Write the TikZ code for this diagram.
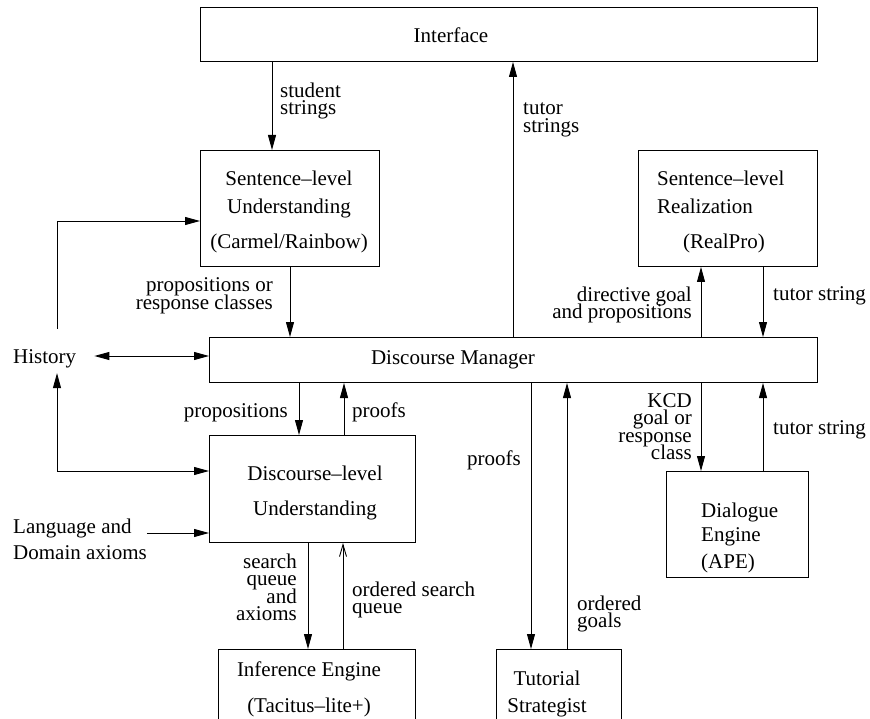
\documentclass[tikz,border=0pt]{standalone}
\usepackage{fontspec}
\setmainfont{Liberation Serif}
\usetikzlibrary{arrows.meta}
\tikzset{every node/.style={inner sep=0pt, font={\fontsize{21}{17.5}\selectfont\lineskiplimit=-30pt}}}
\tikzset{blk/.style={draw, line width=1pt, anchor=north west}}
\tikzset{arr/.style={-{Triangle[length=15pt,width=8pt]}, line width=0.9pt}}
\tikzset{arrs/.style={{Triangle[length=15pt,width=8pt]}-{Triangle[length=15pt,width=8pt]}, line width=0.9pt}}
\tikzset{oarr/.style={-{Straight Barb[length=12pt,width=7pt]}, line width=0.9pt}}

\begin{document}
\begin{tikzpicture}[x=1pt,y=-1pt]
			\useasboundingbox (0,0) rectangle (870,719);
			%\draw[help lines,step=50] (0,0) grid (870,719);
			\node[blk, minimum width=617pt, minimum height=54pt] (iface) at (200,7) {};
			\node[blk, minimum width=179pt, minimum height=116pt] (slu) at (200,150) {};
			\node[blk, minimum width=179pt, minimum height=116pt] (slr) at (638,150) {};
			\node[blk, minimum width=608pt, minimum height=45pt] (dm) at (209,337) {};
			\node[blk, minimum width=206pt, minimum height=107pt] (dlu) at (209,435) {};
			\node[blk, minimum width=142pt, minimum height=106pt] (dlg) at (666,471) {};
			\node[blk, minimum width=197pt, minimum height=90pt] (inf) at (218,649) {};
			\node[blk, minimum width=125pt, minimum height=90pt] (tut) at (496,649) {};
			\node[anchor=base] (iftxt) at (451,43) {Interface};
			\node[anchor=base] (dmtxt) at (453,364) {Discourse Manager};
			\node[anchor=north, align=center] (slutxt) at (289,170.7) {Sentence--level\\[10.5pt]Understanding\\[17.5pt](Carmel/Rainbow)};
			\node[anchor=north west, align=left] (slrtxt) at (657,170.7) {Sentence--level\\[10.5pt]Realization\\[17.5pt]\hspace*{26pt}(RealPro)};
			\node[anchor=north, align=center] (dlutxt) at (315,465.7) {Discourse--level\\[17.5pt]Understanding};
			\node[anchor=north west, align=left] (dlgtxt) at (701,502.7) {Dialogue\\[6.5pt]Engine\\[9.5pt](APE)};
			\node[anchor=north, align=center] (inftxt) at (309,661.7) {Inference Engine\\[18.5pt](Tacitus--lite+)};
			\node[anchor=north, align=center] (tuttxt) at (547,670.7) {Tutorial\\[9.5pt]Strategist};
			\node[anchor=base west] (hist) at (13,363) {History};
			\node[anchor=north west, align=left] (lang) at (13,519) {Language and\\[8.5pt]Domain axioms};
			\node[anchor=north west, align=left] (lstud) at (280,82.7) {student\\strings};
			\node[anchor=north west, align=left] (ltut) at (523,102.8) {tutor\\strings};
			\node[anchor=north east, align=right] (lprop) at (273,277.7) {propositions or\\response classes};
			\node[anchor=north east, align=right] (ldir) at (692,286.7) {directive goal\\and propositions};
			\node[anchor=base west] (ltsu) at (773,301) {tutor string};
			\node[anchor=base east] (lprop2) at (288,417) {propositions};
			\node[anchor=base west] (lproofs) at (352,417) {proofs};
			\node[anchor=north east, align=right] (lsearch) at (297,553.7) {search\\queue\\and\\axioms};
			\node[anchor=north west, align=left] (lord) at (352,581.7) {ordered search\\queue};
			\node[anchor=base east] (lproofs2) at (521,465) {proofs};
			\node[anchor=north west, align=left] (lgoals) at (577,595.7) {ordered\\goals};
			\node[anchor=north east, align=right] (lkcd) at (692,393) {KCD\\goal or\\response\\class};
			\node[anchor=base west] (ltsl) at (773,434) {tutor string};
			\draw[arr] (iface.south -| 272,0) -- (slu.north -| 272,0);
			\draw[arr] (dm.north -| 513,0) -- (iface.south -| 513,0);
			\draw[arr] (slu.south -| 290,0) -- (dm.north -| 290,0);
			\draw[arr] (dm.north -| 701,0) -- (slr.south -| 701,0);
			\draw[arr] (slr.south -| 763,0) -- (dm.north -| 763,0);
			\draw[arr] (dm.south -| 299,0) -- (dlu.north -| 299,0);
			\draw[arr] (dlu.north -| 344,0) -- (dm.south -| 344,0);
			\draw[arr] (dm.south -| 531,0) -- (tut.north -| 531,0);
			\draw[arr] (tut.north -| 567,0) -- (dm.south -| 567,0);
			\draw[arr] (dm.south -| 701,0) -- (dlg.north -| 701,0);
			\draw[arr] (dlg.north -| 763,0) -- (dm.south -| 763,0);
			\draw[arr] (dlu.south -| 308,0) -- (inf.north -| 308,0);
			\draw[oarr] (inf.north -| 343,0) -- (dlu.south -| 343,0);
			\draw[arr] (hist.north -| 57,0) ++(0,-20) |- (slu.west |- 0,221);
			\draw[arrs] (hist.south -| 57,0) ++(0,5.4) |- (dlu.west |- 0,471);
			\draw[arrs] (hist.east |- 0,356) ++(18,0) -- (dm.west |- 0,356);
			\draw[arr] (lang.east |- 0,533) -- (dlu.west |- 0,533);
\end{tikzpicture}
\end{document}
